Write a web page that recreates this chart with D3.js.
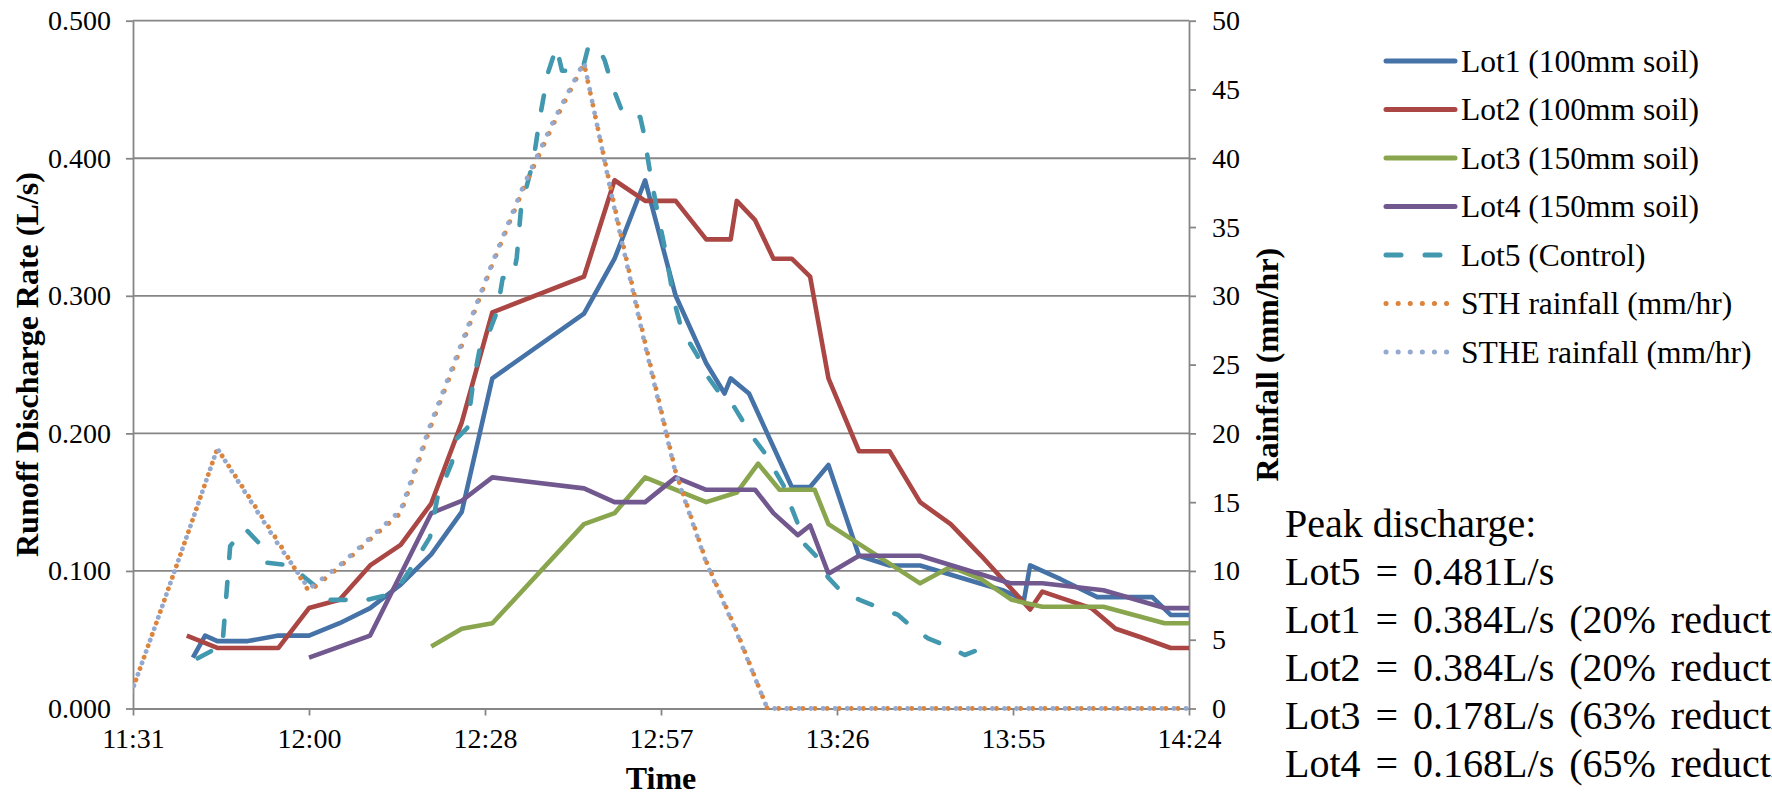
<!DOCTYPE html>
<html>
<head>
<meta charset="utf-8">
<script src="https://cdn.jsdelivr.net/npm/d3@7"></script>
<style>
  body { margin: 0; background: #fff; }
  text { font-family: "Liberation Serif", "Times New Roman", serif; fill: #000; }
</style>
</head>
<body>
<svg id="chart" width="1772" height="795"></svg>
<script>
// discharge series, times are clock readings, values in L/s
const lot1Time = ['11:41','11:43','11:45','11:50','11:55','12:00','12:05','12:10','12:15','12:20','12:25','12:30','12:45','12:50','12:55','13:00','13:05','13:08','13:09','13:12','13:19','13:22','13:25','13:30','13:35','13:40','13:53:30','13:57','13:58','14:03','14:09','14:18','14:21','14:24'];
const lot1Flow = [0.037,0.053,0.049,0.049,0.053,0.053,0.062,0.073,0.090,0.112,0.143,0.240,0.287,0.327,0.384,0.300,0.251,0.229,0.240,0.229,0.161,0.161,0.177,0.111,0.104,0.104,0.086,0.079,0.104,0.094,0.081,0.081,0.068,0.068];

const lot2Time = ['11:40','11:45','11:55','12:00','12:05','12:10','12:15','12:20','12:25','12:30','12:45','12:50','12:55','13:00','13:05','13:09','13:10','13:13','13:16','13:19','13:22','13:25','13:30','13:35','13:40','13:45','13:50','13:58','14:00','14:04','14:08','14:12','14:16','14:21','14:24'];
const lot2Flow = [0.053,0.044,0.044,0.073,0.079,0.104,0.119,0.149,0.208,0.288,0.314,0.384,0.369,0.369,0.341,0.341,0.369,0.355,0.327,0.327,0.314,0.240,0.187,0.187,0.150,0.134,0.111,0.072,0.085,0.079,0.073,0.058,0.052,0.044,0.044];

const lot3Time = ['12:20','12:25','12:30','12:45','12:50','12:55','13:05','13:10','13:13:30','13:17','13:22:45','13:25','13:40','13:45','13:50','13:55','14:00','14:10','14:20','14:24'];
const lot3Flow = [0.045,0.058,0.062,0.134,0.142,0.168,0.150,0.157,0.178,0.159,0.159,0.134,0.091,0.103,0.094,0.079,0.074,0.074,0.062,0.062];

const lot4Time = ['12:00','12:10','12:20','12:25','12:30','12:45','12:50','12:55','13:00','13:05','13:13','13:16','13:20','13:22','13:25','13:30','13:40','13:54:45','14:00','14:10','14:20','14:24'];
const lot4Flow = [0.037,0.053,0.142,0.151,0.168,0.160,0.150,0.150,0.168,0.159,0.159,0.142,0.126,0.133,0.098,0.111,0.111,0.091,0.091,0.086,0.073,0.073];

const lot5Time = ['11:41:48','11:44:18','11:45:48','11:47:06','11:49:30','11:52:18','11:53:00','11:56:54','12:01:18','12:02:36','12:06:42','12:07:30','12:12:24','12:14:54','12:16:30','12:19:48','12:21:00','12:23:24','12:23:54','12:25:54','12:26:48','12:28:00','12:29:36','12:30:48','12:31:42','12:33:24','12:34:00','12:34:42','12:36:42','12:37:48','12:39:06','12:40:30','12:41:24','12:44:42','12:45:42','12:47:18','12:48:24','12:49:36','12:51:30','12:54:12','12:54:42','12:55:48','12:56:48','12:58:18','12:59:42','13:01:00','13:03:30','13:04:48','13:06:54','13:09:24','13:10:54','13:12:30','13:14:36','13:16:18','13:18:06','13:19:00','13:20:12','13:21:12','13:23:18','13:24:54','13:27:12','13:30:12','13:33:06','13:36:24','13:38:42','13:41:18','13:44:24','13:47:18','13:50:18'];
const lot5Flow = [0.0365,0.0425,0.044,0.118,0.131,0.118,0.106,0.104,0.088,0.079,0.079,0.077,0.082,0.090,0.1006,0.1246,0.153,0.179,0.195,0.204,0.235,0.263,0.275,0.289,0.313,0.313,0.328,0.364,0.398,0.430,0.462,0.481,0.4636,0.4636,0.481,0.481,0.471,0.453,0.431,0.430,0.420,0.390,0.366,0.333,0.297,0.275,0.257,0.244,0.231,0.2205,0.2096,0.198,0.1856,0.1724,0.1587,0.1456,0.132,0.119,0.1093,0.0955,0.0846,0.0788,0.0737,0.068,0.059,0.051,0.0454,0.0389,0.044];

// rainfall, mm/hr
const rainTime = ['11:30','11:35','11:40','11:45','11:50','11:55','12:00','12:05','12:10','12:15','12:20','12:25','12:30','12:35','12:40','12:45','12:50','12:55','13:00','13:05','13:10','13:15','13:20','13:25','13:30','13:35','13:40','13:45','13:50','13:55','14:00','14:05','14:10','14:15','14:20','14:24'];
const sthRain  = [0,6.2,12.5,18.9,15.5,12.1,8.5,10.3,12.3,14.2,20.6,26.4,32.3,37.7,42.5,46.9,36.5,26.6,17.2,10.7,5.6,0,0,0,0,0,0,0,0,0,0,0,0,0,0,0];
const stheRain = [0,6.2,12.5,18.9,15.4,11.9,8.7,10.4,12.4,14.4,20.8,26.6,32.4,37.9,42.7,47.0,36.3,26.4,17.1,10.6,5.5,0,0,0,0,0,0,0,0,0,0,0,0,0,0,0];

const seriesNames = ['Lot1 (100mm soil)','Lot2 (100mm soil)','Lot3 (150mm soil)','Lot4 (150mm soil)','Lot5 (Control)','STH rainfall (mm/hr)','STHE rainfall (mm/hr)'];
const seriesColors = ['#4572A7','#AA4643','#89A54E','#71588F','#4198AF','#DB843D','#93A9CF'];

const flowTicks = [0, 0.1, 0.2, 0.3, 0.4, 0.5];
const rainTicks = [0, 5, 10, 15, 20, 25, 30, 35, 40, 45, 50];
const timeTicks = [0.48, 0.50, 0.52, 0.54, 0.56, 0.58, 0.60]; // fraction of a day

const peakLines = ['Peak discharge:','Lot5 = 0.481L/s','Lot1 = 0.384L/s (20% reduction)','Lot2 = 0.384L/s (20% reduction)','Lot3 = 0.178L/s (63% reduction)','Lot4 = 0.168L/s (65% reduction)'];

const serif = '"Liberation Serif", "Times New Roman", serif';

function dayFrac(s) {
  const p = s.split(':').map(Number);
  return (p[0] * 3600 + p[1] * 60 + (p[2] || 0)) / 86400;
}
function clock(d) {
  const m = Math.floor(d * 1440 + 1e-6);
  return Math.floor(m / 60) + ':' + String(m % 60).padStart(2, '0');
}
function zip(ts, vs) { return ts.map((t, i) => ({t: dayFrac(t), v: vs[i]})); }

const plotLeft = 133, plotRight = 1189, plotTop = 20.7, plotBottom = 708.5;
const gridColor = '#868686';

const svg = d3.select('#chart');
svg.append('rect').attr('width', 1772).attr('height', 795).attr('fill', '#fff');

const x = d3.scaleLinear().domain([0.48, 0.60]).range([plotLeft, plotRight]);
const yL = d3.scaleLinear().domain([0, 0.5]).range([plotBottom, plotTop]);
const yR = d3.scaleLinear().domain([0, 50]).range([plotBottom, plotTop]);

svg.append('clipPath').attr('id', 'plotclip')
  .append('rect').attr('x', plotLeft).attr('y', 0).attr('width', plotRight - plotLeft + 6).attr('height', plotBottom + 6);

// gridlines
svg.append('g').selectAll('line')
  .data(flowTicks.filter(d => d > 0))
  .enter().append('line')
  .attr('x1', plotLeft).attr('x2', plotRight)
  .attr('y1', d => yL(d)).attr('y2', d => yL(d))
  .attr('stroke', gridColor).attr('stroke-width', 1.8);

function styleAxis(g) {
  g.select('.domain').attr('stroke', gridColor).attr('stroke-width', 1.8);
  g.selectAll('.tick line').attr('stroke', gridColor).attr('stroke-width', 1.8);
  g.selectAll('.tick text').style('font-size', '28px').style('font-family', serif);
}

svg.append('g')
  .attr('transform', 'translate(' + plotLeft + ',0)')
  .call(d3.axisLeft(yL).tickValues(flowTicks).tickFormat(d3.format('.3f')).tickSize(7).tickSizeOuter(0).tickPadding(15))
  .call(styleAxis);

svg.append('g')
  .attr('transform', 'translate(' + plotRight + ',0)')
  .call(d3.axisRight(yR).tickValues(rainTicks).tickFormat(d3.format('d')).tickSize(7).tickSizeOuter(0).tickPadding(16))
  .call(styleAxis);

svg.append('g')
  .attr('transform', 'translate(0,' + plotBottom + ')')
  .call(d3.axisBottom(x).tickValues(timeTicks).tickFormat(clock).tickSize(7).tickSizeOuter(0).tickPadding(13))
  .call(styleAxis);

// axis titles
svg.append('text')
  .attr('transform', 'translate(38,' + (plotTop + plotBottom) / 2 + ') rotate(-90)')
  .attr('text-anchor', 'middle')
  .style('font-family', serif).style('font-size', '32px').style('font-weight', 'bold')
  .text('Runoff Discharge Rate (L/s)');

svg.append('text')
  .attr('transform', 'translate(1278,' + (plotTop + plotBottom) / 2 + ') rotate(-90)')
  .attr('text-anchor', 'middle')
  .style('font-family', serif).style('font-size', '32px').style('font-weight', 'bold')
  .text('Rainfall (mm/hr)');

svg.append('text')
  .attr('x', (plotLeft + plotRight) / 2).attr('y', 789)
  .attr('text-anchor', 'middle')
  .style('font-family', serif).style('font-size', '32px').style('font-weight', 'bold')
  .text('Time');

// series
const flowLine = d3.line().x(d => x(d.t)).y(d => yL(d.v));
const rainLine = d3.line().x(d => x(d.t)).y(d => yR(d.v));

const dashes = [null, null, null, null, '15 24', '0.1 12', '0.1 12'];

const flows = [zip(lot1Time, lot1Flow), zip(lot2Time, lot2Flow), zip(lot3Time, lot3Flow), zip(lot4Time, lot4Flow), zip(lot5Time, lot5Flow)];
flows.forEach((s, i) => {
  svg.append('path')
    .datum(s)
    .attr('d', flowLine)
    .attr('fill', 'none')
    .attr('stroke', seriesColors[i])
    .attr('stroke-width', 4.6)
    .attr('stroke-linejoin', 'round')
    .attr('stroke-linecap', i == 4 ? 'round' : 'butt')
    .attr('stroke-dasharray', dashes[i]);
});

const rains = [zip(rainTime, sthRain), zip(rainTime, stheRain)];
rains.forEach((s, i) => {
  svg.append('path')
    .datum(s)
    .attr('d', rainLine)
    .attr('clip-path', 'url(#plotclip)')
    .attr('fill', 'none')
    .attr('stroke', seriesColors[5 + i])
    .attr('stroke-width', 4.8)
    .attr('stroke-linecap', 'round')
    .attr('stroke-dasharray', dashes[5 + i])
    .attr('stroke-dashoffset', i == 0 ? 6 : 0);
});

// legend
const legend = svg.append('g').selectAll('g')
  .data(seriesNames)
  .enter().append('g')
  .attr('transform', (d, i) => 'translate(1385,' + (61 + i * 48.5) + ')');

legend.append('line')
  .attr('x1', 1).attr('x2', 70)
  .attr('stroke', (d, i) => seriesColors[i])
  .attr('stroke-width', 5)
  .attr('stroke-linecap', 'round')
  .attr('stroke-dasharray', (d, i) => dashes[i]);

legend.append('text')
  .attr('x', 76).attr('y', 10.5)
  .style('font-family', serif)
  .style('font-size', '31.5px')
  .text(d => d);

// peak discharge note
svg.append('g').selectAll('text')
  .data(peakLines)
  .enter().append('text')
  .attr('x', 1285)
  .attr('y', (d, i) => 537 + i * 48)
  .style('font-family', serif)
  .style('font-size', '40px')
  .style('word-spacing', (d, i) => i == 0 ? '0px' : '5px')
  .text(d => d);
</script>
</body>
</html>
